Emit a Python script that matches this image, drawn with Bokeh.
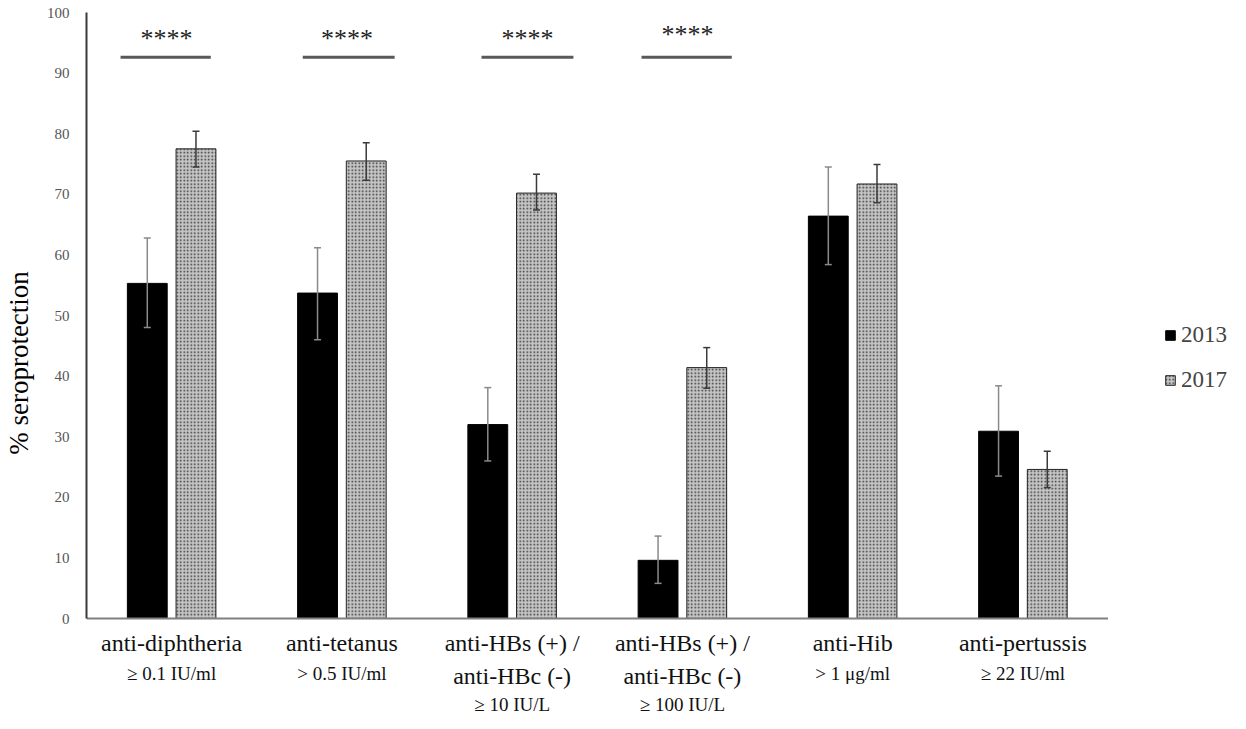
import numpy as np
from bokeh.plotting import figure
from bokeh.models import (ColumnDataSource, Range1d, FixedTicker, Whisker, TeeHead,
                          Legend, LegendItem)
from bokeh.core.properties import value
from bokeh.embed import file_html
from bokeh.resources import INLINE

# ---------------- data ----------------
categories = ["anti-diphtheria", "anti-tetanus", "anti-HBs (+) /\nanti-HBc (-)",
              "anti-HBs (+) /\nanti-HBc (-)", "anti-Hib", "anti-pertussis"]
thresholds = ["≥ 0.1 IU/ml", "> 0.5 IU/ml", "≥ 10 IU/L", "≥ 100 IU/L", "> 1 μg/ml", "≥ 22 IU/ml"]
series = ["2013", "2017"]
val_2013 = [55.3, 53.7, 32.0, 9.6, 66.4, 30.9]
low_2013 = [48.0, 46.0, 26.0, 5.8, 58.4, 23.5]
up_2013 = [62.8, 61.2, 38.1, 13.6, 74.5, 38.4]
val_2017 = [77.5, 75.5, 70.2, 41.4, 71.7, 24.6]
low_2017 = [74.5, 72.3, 67.4, 38.0, 68.6, 21.6]
up_2017 = [80.4, 78.5, 73.3, 44.7, 74.9, 27.6]
sig_labels = ["****", "****", "****", "****"]
sig_x0 = [0.20, 1.27, 2.32, 3.26]
sig_x1 = [0.73, 1.81, 2.86, 3.79]
sig_y = [92.6, 92.6, 92.6, 92.6]
star_x = [0.47, 1.53, 2.59, 3.53]
star_y = [95.7, 95.7, 95.7, 96.3]
y_ticks = [0, 10, 20, 30, 40, 50, 60, 70, 80, 90, 100]

SERIF = "Liberation Serif"
OFF = 0.143
BW = 0.234

n = len(categories)
centers = np.arange(n) + 0.5

W, H = 1230, 713
LEFT, TOP = 81, 12
PX_X = 171.0                      # pixels per category
PX_Y = 6.06                       # pixels per percent
frame_w = W - LEFT
frame_h = H - TOP
y_end = 100
y_start = y_end - frame_h / PX_Y
x_end = frame_w / PX_X

p = figure(width=W, height=H, output_backend="svg", toolbar_location=None,
           x_range=Range1d(0, x_end), y_range=Range1d(y_start, y_end),
           x_axis_location=None,
           min_border_left=LEFT, min_border_right=0, min_border_top=TOP, min_border_bottom=0)
p.outline_line_color = None
p.grid.visible = False
p.background_fill_color = "white"

src13 = ColumnDataSource(dict(x=centers - OFF, top=val_2013, lo=low_2013, hi=up_2013))
src17 = ColumnDataSource(dict(x=centers + OFF, top=val_2017, lo=low_2017, hi=up_2017))

r13 = p.vbar(x="x", top="top", width=BW, source=src13, fill_color="black", line_color="black")
r17 = p.vbar(x="x", top="top", width=BW, source=src17, fill_color="#c4c4c4",
             line_color="#222222", line_width=1, hatch_pattern="dot", hatch_color="#333333",
             hatch_scale=3.5, hatch_weight=1.0)

for s, col in ((src13, "#8a8a8a"), (src17, "#3a3a3a")):
    w = Whisker(base="x", lower="lo", upper="hi", source=s, line_color=col, line_width=1.5,
                upper_head=TeeHead(size=7, line_color=col, line_width=1.5),
                lower_head=TeeHead(size=7, line_color=col, line_width=1.5),
                level="annotation")
    p.add_layout(w)

# baseline (x axis line) from 0 to last category
p.segment(x0=[0], x1=[n], y0=[0], y1=[0], line_color="#808080", line_width=2)

# significance
p.segment(x0=sig_x0, x1=sig_x1, y0=sig_y, y1=sig_y, line_color="#595959", line_width=3)
p.text(x=star_x, y=star_y, text=sig_labels, text_font=value(SERIF), text_font_size="26px",
       text_align="center", text_baseline="middle", text_color="#222222")

# y axis
p.yaxis.bounds = (0, 100)
p.yaxis.ticker = FixedTicker(ticks=y_ticks)
p.yaxis.major_tick_line_color = None
p.yaxis.minor_tick_line_color = None
p.yaxis.axis_line_color = "#3a3a3a"
p.yaxis.axis_line_width = 2
p.yaxis.major_label_text_font = SERIF
p.yaxis.major_label_text_font_size = "15px"
p.yaxis.major_label_text_color = "#555555"
p.yaxis.major_label_standoff = 11
p.yaxis.axis_label = "% seroprotection"
p.yaxis.axis_label_text_font = SERIF
p.yaxis.axis_label_text_font_size = "27px"
p.yaxis.axis_label_text_font_style = "normal"
p.yaxis.axis_label_text_color = "black"
p.yaxis.axis_label_standoff = 10

# category labels (drawn below the baseline)
LH = 31
row = LH / PX_Y
top0 = -11 / PX_Y
nlines = [c.count("\n") + 1 for c in categories]
p.text(x=centers, y=[top0] * n, text=categories, text_align="center", text_baseline="top",
       text_font=value(SERIF), text_font_size="24px", text_line_height=LH / 24.0,
       text_color="#111111")
p.text(x=centers, y=[top0 - k * row - 2 / PX_Y for k in nlines], text=thresholds,
       text_align="center", text_baseline="top", text_font=value(SERIF),
       text_font_size="19px", text_color="#111111")

legend = Legend(items=[LegendItem(label=series[0], renderers=[r13]),
                       LegendItem(label=series[1], renderers=[r17])],
                location=(1078, 311), orientation="vertical", padding=0, margin=0,
                spacing=0, glyph_width=12, glyph_height=12, label_height=45,
                label_standoff=5, label_text_font=SERIF, label_text_font_size="23px",
                border_line_color=None, background_fill_alpha=0)
p.add_layout(legend)

open("out.html", "w").write(file_html(p, INLINE))
